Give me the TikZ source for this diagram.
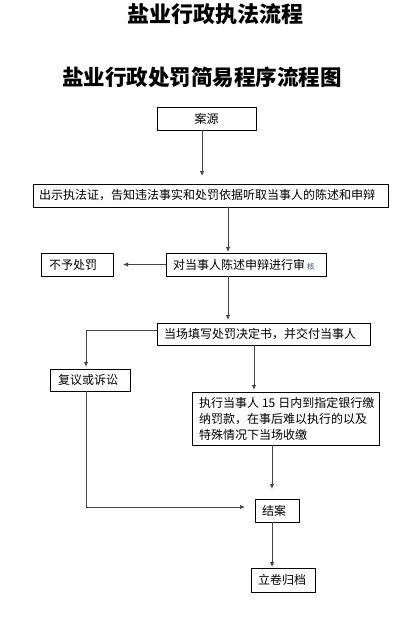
\documentclass[tikz,border=0pt]{standalone}
\usepackage{fontspec}
\newfontfamily\cjk{Noto Sans CJK SC}
\usetikzlibrary{arrows.meta,calc}
\definecolor{lineg}{RGB}{70,70,70}
\definecolor{hecol}{RGB}{60,80,120}
\begin{document}
\begin{tikzpicture}[x=1pt,y=-1pt,
  box/.style={draw=black, line width=0.8pt, anchor=north west, outer sep=0pt,
    inner ysep=0pt, align=left, font=\cjk\fontsize{12}{16}\selectfont},
  ttl/.style={font=\cjk\bfseries\fontsize{22}{26}\selectfont, inner sep=0pt},
  conn/.style={draw=lineg, line width=0.9pt, -{Latex[length=5pt,width=4.5pt]}}]
\useasboundingbox (0,0) rectangle (407,636);
\node[ttl] (t1) at (215,14) {盐业行政执法流程};
\node[ttl, font=\cjk\bfseries\fontsize{21.5}{26}\selectfont] (t2) at (202,77) {盐业行政处罚简易程序流程图};
% boxes
\node[box, inner xsep=0pt, align=center, text width=99pt, minimum height=23pt] (n1) at (157,107) {案源};
\node[box, inner xsep=6pt, text width=343pt, minimum height=23pt] (n2) at (33,184) {出示执法证，告知违法事实和处罚依据听取当事人的陈述和申辩};
\node[box, inner xsep=7pt, text width=146pt, minimum height=23pt] (n3) at (166,253) {对当事人陈述申辩进行审\,{\fontsize{7.5}{9}\selectfont\color{hecol}核}};
\node[box, inner xsep=8pt, text width=56pt, minimum height=23pt] (n0) at (41,253) {不予处罚};
\node[box, inner xsep=7pt, text width=199pt, minimum height=22pt] (n4) at (157,323) {当场填写处罚决定书，并交付当事人};
\node[box, inner xsep=8pt, text width=64pt, minimum height=22pt] (n5) at (50,369) {复议或诉讼};
\node[box, inner xsep=7pt, text width=173pt, minimum height=53pt] (n6) at (192,392) {\mbox{执行当事人\kern3pt15\kern3pt日内到指定银行缴}\\\mbox{纳罚款，在事后难以执行的以及}\\\mbox{特殊情况下当场收缴}};
\node[box, inner xsep=7pt, text width=30pt, minimum height=23pt] (n7) at (255,499) {结案};
\node[box, inner xsep=7pt, text width=50pt, minimum height=24pt] (n8) at (251,568) {立卷归档};
% guide coordinates
\coordinate (xa) at (202,0);
\coordinate (xb) at (228,0);
\coordinate (xc) at (86,0);
\coordinate (xd) at (254,0);
\coordinate (xe) at (272,0);
\coordinate (yl) at (0,330);
\coordinate (yr) at (0,507);
\coordinate (bend1) at (86,330);
\coordinate (bend2) at (86,507);
% connectors
\draw[conn, shorten >=8pt] (n1.south -| xa) -- (n2.north -| xa);
\draw[conn, shorten >=1pt] (n2.south -| xb) -- (n3.north -| xb);
\draw[conn, shorten >=10pt] (n3.west) -- (n0.east);
\draw[conn, shorten >=3pt] (n3.south -| xb) -- (n4.north -| xb);
\draw[conn, shorten >=2pt] (n4.west |- yl) -- (bend1) -- (n5.north -| xc);
\draw[conn, shorten >=2pt] (n4.south -| xd) -- (n6.north -| xd);
\draw[conn, shorten >=10pt] (n6.south -| xe) -- (n7.north -| xe);
\draw[conn, shorten >=10pt] (n5.south -| xc) -- (bend2) -- (n7.west |- yr);
\draw[conn, shorten >=1pt] (n7.south -| xe) -- (n8.north -| xe);
\end{tikzpicture}
\end{document}
